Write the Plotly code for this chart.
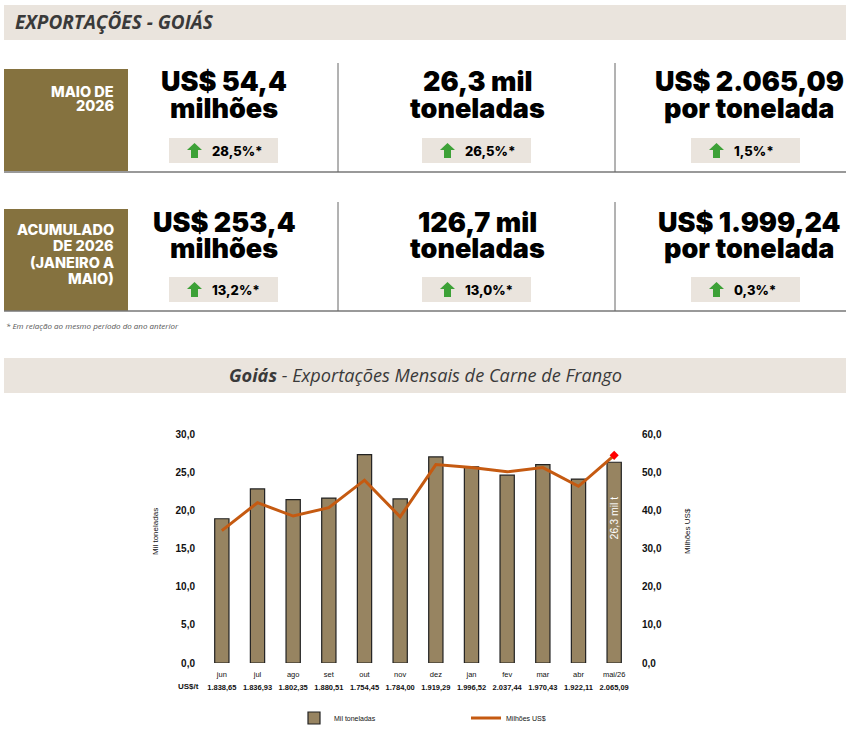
import plotly.graph_objects as go

W, H = 852, 731

months = ["jun", "jul", "ago", "set", "out", "nov", "dez", "jan", "fev", "mar", "abr", "mai/26"]
price_labels = ["1.838,65", "1.836,93", "1.802,35", "1.880,51", "1.754,45", "1.784,00",
                "1.919,29", "1.996,52", "2.037,44", "1.970,43", "1.922,11", "2.065,09"]
mil_toneladas = [18.9, 22.8, 21.4, 21.6, 27.3, 21.5, 27.0, 25.7, 24.6, 26.0, 24.1, 26.3]
milhoes_usd = [34.7, 42.0, 38.5, 40.7, 47.9, 38.3, 52.0, 51.2, 50.1, 51.2, 46.3, 54.4]
last_label = "26,3 mil t"

kpi_rows = [["MAIO DE", "2026"], ["ACUMULADO", "DE 2026", "(JANEIRO A", "MAIO)"]]
kpi_main = [["US$ 54,4", "26,3 mil", "US$ 2.065,09"],
            ["US$ 253,4", "126,7 mil", "US$ 1.999,24"]]
kpi_sub = ["milhões", "toneladas", "por tonelada"]
kpi_var = [["28,5%*", "26,5%*", "1,5%*"],
           ["13,2%*", "13,0%*", "0,3%*"]]

BEIGE = "#EAE4DD"
OLIVE = "#85723F"
GREEN = "#3DA137"


def px(x):
    return x / W


def py(y):
    return 1 - y / H


shapes = []
annotations = []


def rect(x0, y0, x1, y1, color):
    shapes.append(dict(type="rect", xref="paper", yref="paper", x0=px(x0), x1=px(x1),
                       y0=py(y1), y1=py(y0), fillcolor=color, line=dict(width=0), layer="below"))


def hline(x0, x1, y, color="#777777", w=1.5):
    shapes.append(dict(type="line", xref="paper", yref="paper", x0=px(x0), x1=px(x1),
                       y0=py(y), y1=py(y), line=dict(color=color, width=w)))


def vline(x, y0, y1, color="#666666", w=1):
    shapes.append(dict(type="line", xref="paper", yref="paper", x0=px(x), x1=px(x),
                       y0=py(y0), y1=py(y1), line=dict(color=color, width=w)))


def arrow(cx, cy):
    pts = [(cx - 7.5, cy), (cx, cy - 7), (cx + 7.5, cy), (cx + 3.5, cy),
           (cx + 3.5, cy + 8), (cx - 3.5, cy + 8), (cx - 3.5, cy)]
    path = "M " + " L ".join(f"{px(a):.5f},{py(b):.5f}" for a, b in pts) + " Z"
    shapes.append(dict(type="path", xref="paper", yref="paper", path=path,
                       fillcolor=GREEN, line=dict(width=0)))


def text(x, y, s, size, color="#111111", family="Open Sans", weight="normal",
         style="normal", xanchor="center", yanchor="middle", align="center", angle=0):
    annotations.append(dict(x=px(x), y=py(y), xref="paper", yref="paper", text=s,
                            showarrow=False, xanchor=xanchor, yanchor=yanchor, align=align,
                            textangle=angle, borderpad=0,
                            font=dict(size=size, color=color, family=family,
                                      weight=weight, style=style)))


# header
rect(4, 5, 846, 40, BEIGE)
text(14, 22, "EXPORTAÇÕES - GOIÁS", 19, "#3a3a3a", weight="bold", style="italic",
     xanchor="left")

col_x = [224, 477, 749]
blocks = [(69, 171, 63, 172, [91, 106]), (209, 311, 202, 311, [229, 245.5, 262, 278])]
for r, (by0, by1, ly0, ly1, line_y) in enumerate(blocks):
    rect(4, by0, 128, by1, OLIVE)
    for lbl, ly in zip(kpi_rows[r], line_y):
        text(115, ly, lbl, 14.5, "white", family="Inter", weight=800, xanchor="right")
    hline(4, 846, ly1)
    vline(338, ly0, ly1)
    vline(615, ly0, ly1)
    top = 82 if r == 0 else 222
    for c, cx in enumerate(col_x):
        text(cx, top, kpi_main[r][c], 27, "#000000", family="Inter", weight=900)
        text(cx, top + 27, kpi_sub[c], 27, "#000000", family="Inter", weight=900)
        bx = cx - 55 if c < 2 else cx - 58
        badge_top = 138 if r == 0 else 277
        rect(bx, badge_top, bx + 109, badge_top + 25, BEIGE)
        arrow(bx + 25.5, badge_top + 12)
        text(bx + 42, badge_top + 13, kpi_var[r][c], 13, "#000000", family="Inter",
             weight=800, xanchor="left")

text(5, 325, "* Em relação ao mesmo período do ano anterior", 8, "#555555",
     style="italic", xanchor="left")

# chart title band
rect(4, 358, 846, 393, BEIGE)
text(425, 375, "<b>Goiás</b> - Exportações Mensais de Carne de Frango", 18.2, "#3a3a3a",
     style="italic")

# axis titles and row label
text(155, 532, "Mil toneladas", 8, "#111111", family="Liberation Sans", angle=-90)
text(687, 531, "Milhões US$", 8, "#111111", family="Liberation Sans", angle=-90)
text(188, 686, "<b>US$/t</b>", 8, "#111111", family="Liberation Sans")

# label inside the last bar
annotations.append(dict(x=months[-1], y=mil_toneladas[-1], xref="x", yref="y",
                        text=last_label, showarrow=False, textangle=-90,
                        xanchor="center", yanchor="middle", yshift=-56,
                        font=dict(size=10.5, color="white", family="Liberation Sans")))

ticktext = [f"<span style='font-size:7.5px;color:#111111'>{m}</span><br>"
            f"<span style='font-size:7.5px;color:#111111'><b>{p}</b></span>"
            for m, p in zip(months, price_labels)]

fig = go.Figure()
fig.add_trace(go.Bar(
    x=months, y=mil_toneladas, name="Mil toneladas",
    marker=dict(color="#978461", line=dict(color="#222222", width=1.2)),
    width=0.4,
))
fig.add_trace(go.Scatter(
    x=months, y=milhoes_usd, name="Milhões US$", yaxis="y2", mode="lines",
    line=dict(color="#C55A11", width=3),
))
fig.add_trace(go.Scatter(
    x=months[-1:], y=milhoes_usd[-1:], yaxis="y2", mode="markers", showlegend=False,
    marker=dict(symbol="diamond", color="#FF0000", size=7),
))

fig.update_layout(
    width=W, height=H, margin=dict(l=0, r=0, t=0, b=0, autoexpand=False),
    paper_bgcolor="white", plot_bgcolor="white",
    separators=",.",
    font=dict(family="Liberation Sans", color="#111111"),
    shapes=shapes, annotations=annotations,
    xaxis=dict(domain=[px(204), px(632)], tickmode="array", tickvals=months,
               ticktext=ticktext, tickangle=0, showgrid=False, showline=False,
               automargin=False, range=[-0.5, len(months) - 0.5],
               ticks="outside", ticklen=0, tickcolor="rgba(0,0,0,0)",
               tickfont=dict(size=10.5, family="Liberation Sans", color="#111111")),
    yaxis=dict(domain=[py(663), py(434)], range=[0, 30], dtick=5, tickformat=".1f",
               showgrid=False, zeroline=False, showline=False, automargin=False,
               ticks="outside", ticklen=6, tickcolor="rgba(0,0,0,0)",
               tickfont=dict(size=10, family="Liberation Sans", weight="bold")),
    yaxis2=dict(overlaying="y", side="right", range=[0, 60], dtick=10, tickformat=".1f",
                showgrid=False, zeroline=False, showline=False, automargin=False,
                ticks="outside", ticklen=7, tickcolor="rgba(0,0,0,0)",
                tickfont=dict(size=10, family="Liberation Sans", weight="bold")),
    legend=dict(orientation="h", x=px(294), y=py(718), xanchor="left", yanchor="middle",
                entrywidth=127, font=dict(size=7, family="Liberation Sans"),
                itemwidth=30),
)

fig.write_html("out.html", config={"displayModeBar": False},
               post_script="document.body.style.margin='0px';"
                           "document.documentElement.style.overflow='hidden';")
